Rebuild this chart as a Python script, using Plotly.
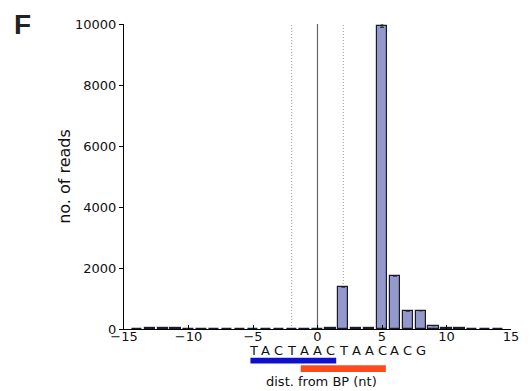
import plotly.graph_objects as go

positions = list(range(-14, 15))
reads = [10, 20, 30, 25, 15, 5, 5, 5, 5, 5, 5, 5, 5, 10, 10, 30, 1380, 40, 30, 9950, 1740, 590, 600, 110, 30, 20, 10, 10, 10]
read_err = [0]*19 + [60] + [0]*9

vline_solid = [0]
vline_dotted = [-2, 2]
sequence = list("TACTAACTAACACG")
seq_start = -5
blue_span = [-5.2, 1.45]
orange_span = [-1.3, 5.3]

x_ticks = [-15, -10, -5, 0, 5, 10, 15]
y_ticks = [0, 2000, 4000, 6000, 8000, 10000]
y_ticktext = ["0", "2000", "4000", "6000", "8000", "10000"]

fig = go.Figure()
fig.add_trace(go.Bar(
    x=positions, y=reads, width=0.8,
    marker=dict(color="#9499CC", line=dict(color="#1a1a2e", width=1.2)),
    error_y=dict(type="data", array=read_err, color="#222", thickness=1, width=2),
))

shapes = []
for v in vline_solid:
    shapes.append(dict(type="line", xref="x", yref="y", x0=v, x1=v, y0=0, y1=10000,
                       line=dict(color="#666666", width=1.2), layer="below"))
for v in vline_dotted:
    shapes.append(dict(type="line", xref="x", yref="y", x0=v, x1=v, y0=0, y1=10000,
                       line=dict(color="#999999", width=1, dash="1px,2px"), layer="below"))
shapes.append(dict(type="rect", xref="x", yref="paper", x0=blue_span[0], x1=blue_span[1],
                   y0=-0.113, y1=-0.094, fillcolor="#1010CC", line=dict(width=0)))
shapes.append(dict(type="rect", xref="x", yref="paper", x0=orange_span[0], x1=orange_span[1],
                   y0=-0.141, y1=-0.119, fillcolor="#FF4A1C", line=dict(width=0)))

annotations = []
for i, ch in enumerate(sequence):
    annotations.append(dict(x=seq_start + i, y=-0.071, xref="x", yref="paper", text=ch,
                            showarrow=False, yanchor="middle",
                            font=dict(family="DejaVu Sans", size=13, color="#111")))
annotations.append(dict(x=0.51, y=-0.172, xref="paper", yref="paper", text="dist. from BP (nt)",
                        showarrow=False, yanchor="middle",
                        font=dict(family="DejaVu Sans", size=13, color="#111")))
annotations.append(dict(x=-0.29, y=1.055, xref="paper", yref="paper", text="<b>F</b>",
                        showarrow=False, xanchor="left", yanchor="top",
                        font=dict(family="Liberation Sans", size=28, color="#222")))

fig.update_layout(
    width=531, height=391,
    margin=dict(l=124, r=13, t=24, b=62),
    plot_bgcolor="white", paper_bgcolor="white",
    showlegend=False, bargap=0,
    shapes=shapes, annotations=annotations,
    font=dict(family="DejaVu Sans", size=13, color="#111"),
    xaxis=dict(range=[-15, 15], tickvals=x_ticks, showline=True, linecolor="black", linewidth=1,
               ticks="inside", ticklen=4, tickcolor="black", showgrid=False, zeroline=False,
               ticklabelstandoff=-5),
    yaxis=dict(range=[0, 10000], tickvals=y_ticks, ticktext=y_ticktext, showline=True,
               linecolor="black", linewidth=1,
               ticks="outside", ticklen=4, tickcolor="black", showgrid=False, zeroline=False,
               title=dict(text="no. of reads", standoff=0)),
)

fig.write_html("out.html")
